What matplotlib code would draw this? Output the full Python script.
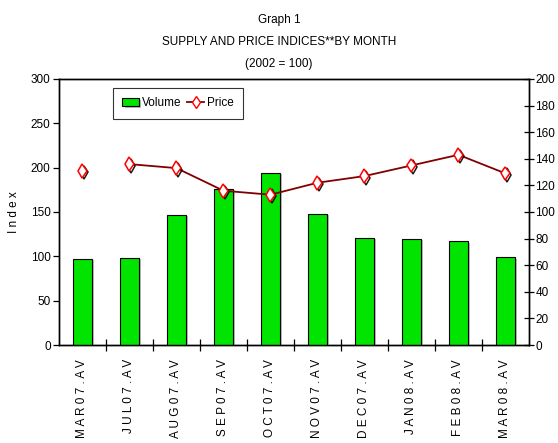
import numpy as np
import matplotlib
matplotlib.use("Agg")
import matplotlib.pyplot as plt
import matplotlib.patheffects as pe

months = ["MAR07.AV", "JUL07.AV", "AUG07.AV", "SEP07.AV", "OCT07.AV",
          "NOV07.AV", "DEC07.AV", "JAN08.AV", "FEB08.AV", "MAR08.AV"]
volume = [97, 98, 147, 176, 194, 148, 121, 120, 117, 99]
price = [131, 136, 133, 116, 113, 122, 127, 135, 143, 129]

plt.rcParams["font.family"] = ["Liberation Sans Narrow", "Liberation Sans", "DejaVu Sans"]
plt.rcParams["font.size"] = 8.5

fig = plt.figure(figsize=(5.58, 4.43), dpi=100)
ax = fig.add_axes([0.1057, 0.2212, 0.8423, 0.6005])
ax2 = ax.twinx()

x = np.arange(len(months))
shadow = [pe.SimplePatchShadow(offset=(1.5, -1), shadow_rgbFace="#aaaaaa", alpha=0.8), pe.Normal()]
bars = ax.bar(x + 0.5, volume, width=0.41, color="#00e400", edgecolor="black",
              linewidth=0.8, label="Volume", path_effects=shadow, zorder=3)

# the line is broken between the first two months
ax2.plot(x[1:] + 0.5, price[1:], color="#800000", linewidth=1.3, zorder=3)
mshadow = [pe.SimpleLineShadow(offset=(1.2, -1.2), shadow_color="black", alpha=0.9), pe.Normal()]
ax2.plot(x + 0.5, price, linestyle="none", marker="d", markersize=7,
         markerfacecolor="white", markeredgecolor="red", markeredgewidth=1.1,
         path_effects=mshadow, zorder=4)
price_handle, = ax2.plot([], [], color="#800000", linewidth=1.3, marker="d",
                         markersize=6, markerfacecolor="white",
                         markeredgecolor="red", label="Price")

ax.set_xlim(0, len(months))
ax.set_ylim(0, 300)
ax.set_yticks(np.arange(0, 301, 50))
ax2.set_ylim(0, 200)
ax2.set_yticks(np.arange(0, 201, 20))

ax.set_xticks(x[1:])
ax.set_xticklabels([])
ax.tick_params(axis="x", direction="inout", length=8, width=0.9)
ax.set_xticks(x + 0.5, minor=True)
ax.set_xticklabels([" ".join(m) for m in months], minor=True, rotation=90)
ax.tick_params(axis="x", which="minor", length=0, pad=10, labelsize=8.5)
ax.tick_params(axis="y", direction="out", length=4, width=0.9, pad=2)
ax2.tick_params(axis="y", direction="inout", length=7, width=0.9, pad=1)

for a in (ax, ax2):
    for s in a.spines.values():
        s.set_linewidth(1.0)

ax.set_ylabel("I n d e x", labelpad=8)

leg = ax.legend([bars, price_handle], ["Volume", "Price"], ncol=2,
                loc="upper left", bbox_to_anchor=(0.115, 0.966),
                borderaxespad=0, frameon=True, fancybox=False,
                edgecolor="black", handlelength=1.4, handletextpad=0.25,
                columnspacing=0.5, borderpad=0.8, fontsize=8.5)
leg.get_frame().set_linewidth(0.8)
leg.set_zorder(10)

fig.text(0.5, 0.955, "Graph 1", ha="center", va="center", fontsize=8.5)
fig.text(0.5, 0.905, "SUPPLY AND PRICE INDICES**BY MONTH", ha="center", va="center", fontsize=8.5)
fig.text(0.5, 0.855, "(2002 = 100)", ha="center", va="center", fontsize=8.5)

fig.savefig("out.png", dpi=100)
